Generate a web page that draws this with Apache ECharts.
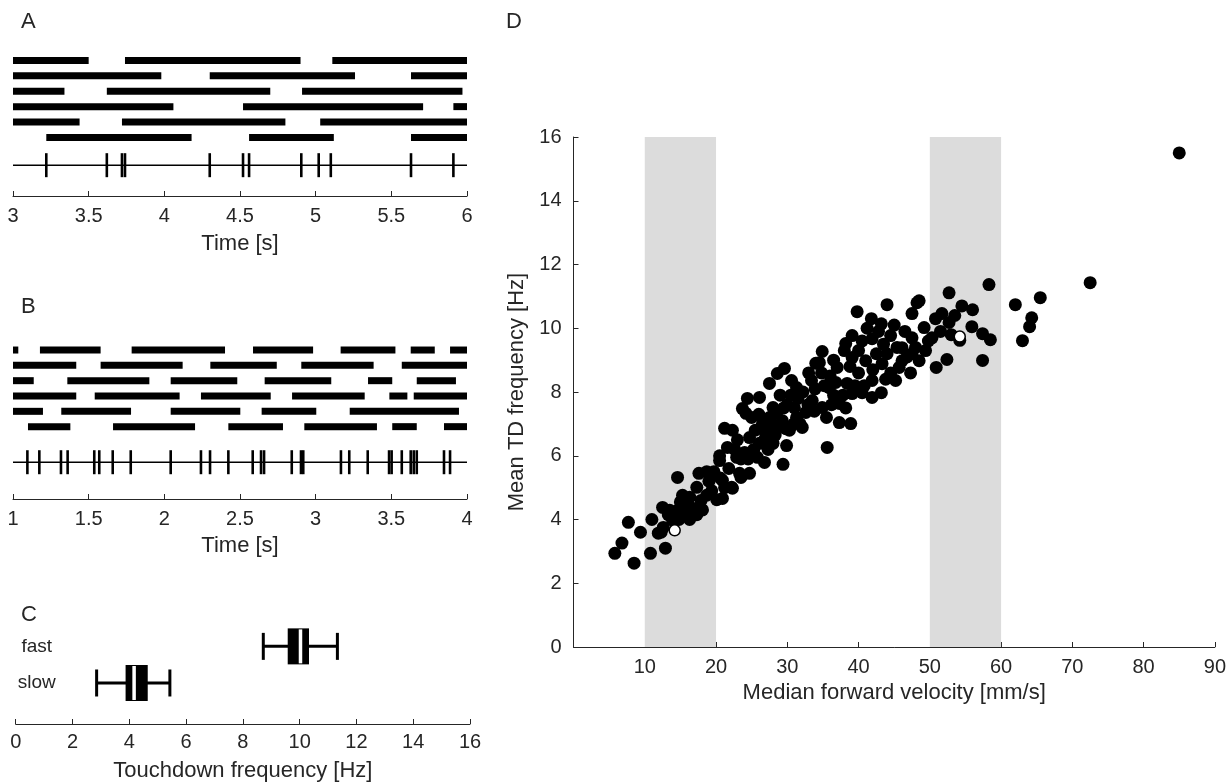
<!DOCTYPE html>
<html>
<head>
<meta charset="utf-8">
<script src="https://cdn.jsdelivr.net/npm/echarts@6/dist/echarts.min.js"></script>
<style>html,body{margin:0;padding:0;background:#fff}#c{width:1229px;height:783px}</style>
</head>
<body>
<div id="c"></div>
<script>
// ---------- DATA ----------
// Panel A: stance phases (s) for 6 legs, slow walking, 3-6 s
const aLeg1 = [[3.0,3.50],[3.74,4.90],[5.11,6.0]];
const aLeg2 = [[3.0,3.98],[4.30,5.26],[5.63,6.0]];
const aLeg3 = [[3.0,3.34],[3.62,4.70],[4.91,5.97]];
const aLeg4 = [[3.0,4.06],[4.52,5.71],[5.91,6.0]];
const aLeg5 = [[3.0,3.44],[3.72,4.80],[5.03,6.0]];
const aLeg6 = [[3.22,4.18],[4.56,5.12],[5.63,6.0]];
const aTouchdowns = [3.22,3.62,3.72,3.74,4.30,4.52,4.56,4.905,5.02,5.10,5.63,5.91];
const aTimeRange = [3, 6];

// Panel B: stance phases (s) for 6 legs, fast walking, 1-4 s
const bLeg1 = [[1.0,1.035],[1.178,1.579],[1.784,2.401],[2.586,2.983],[3.165,3.527],[3.628,3.787],[3.888,4.0]];
const bLeg2 = [[1.0,1.418],[1.579,2.121],[2.304,2.743],[2.905,3.383],[3.569,4.0]];
const bLeg3 = [[1.0,1.137],[1.359,1.901],[2.042,2.482],[2.663,3.103],[3.346,3.506],[3.668,3.927]];
const bLeg4 = [[1.0,1.418],[1.540,2.101],[2.242,2.703],[2.844,3.324],[3.487,3.606],[3.648,4.0]];
const bLeg5 = [[1.0,1.198],[1.319,1.780],[2.042,2.502],[2.643,3.004],[3.225,3.947]];
const bLeg6 = [[1.099,1.379],[1.661,2.203],[2.423,2.784],[2.925,3.405],[3.506,3.668],[3.848,4.0]];
const bTouchdowns = [1.095,1.174,1.317,1.361,1.537,1.570,1.659,1.778,2.042,2.242,2.302,2.423,
  2.584,2.639,2.659,2.842,2.903,2.918,3.167,3.222,3.344,3.485,3.502,3.569,3.628,3.648,3.668,3.848,3.888];
const bTimeRange = [1, 4];

// Panel C: touchdown frequency boxes [min, q1, median, q3, max]
const cGroups = ['slow', 'fast'];
const cSlow = [2.85, 3.87, 4.17, 4.65, 5.43];
const cFast = [8.72, 9.58, 10.03, 10.33, 11.33];

// Panel D: median forward velocity (mm/s) vs mean TD frequency (Hz)
const flies = [
[5.8,2.94],[6.8,3.26],[7.7,3.91],[8.5,2.63],[9.4,3.6],[10.8,2.94],[11.0,4.0],[12.9,3.1],[12.5,4.38],[11.9,3.57],
[12.6,3.75],[13.5,4.29],[14.6,4.29],[15.6,4.2],[14.6,5.32],[15.3,4.76],[16.3,4.7],[17.3,5.01],[17.6,5.45],[18.7,5.5],
[19.7,5.5],[20.6,5.3],[21.2,5.0],[18.7,4.76],[20.1,4.62],[20.9,4.66],[17.3,4.15],[16.3,4.0],[14.8,4.0],[13.9,3.98],
[16.7,4.35],[18.1,4.3],[15.0,4.55],[13.3,4.15],[12.3,3.6],[19.4,4.9],[16.0,4.45],[17.9,4.6],[19.0,5.2],
[20.5,6.0],[21.6,6.26],[22.3,6.8],[22.3,4.98],[23.5,5.9],[23.5,5.32],[24.7,5.45],[26.8,5.79],[29.9,6.32],[29.4,5.73],
[28.0,6.39],[26.1,6.39],[24.7,6.57],[21.2,6.86],[20.5,5.85],[22.9,5.95],[23.3,5.45],[22.2,5.01],[20.9,5.23],[24.2,7.33],
[23.7,7.48],[24.4,7.8],[26.1,7.83],[28.0,7.51],[28.5,7.33],[27.5,7.2],[29.3,7.1],[31.3,7.2],[32.6,7.36],[33.5,7.73],
[33.4,8.36],[32.1,6.89],[30.9,7.0],[27.5,8.27],[28.6,8.58],[29.6,8.74],[30.6,8.36],[31.3,8.14],[25.5,6.8],[26.5,7.0],
[25.3,6.2],[27.0,6.7],[28.5,6.9],[30.0,7.6],[31.5,7.8],[32.2,8.0],[29.0,7.9],[25.0,7.2],[26.0,7.3],[30.5,7.9],
[21.8,5.6],[22.6,6.2],[24.0,6.1],[25.8,5.95],[27.3,6.2],[28.3,6.65],[29.8,6.85],[31.0,7.5],[32.9,7.6],[33.9,8.1],
[23.0,6.5],[24.5,5.9],[26.8,6.5],[27.8,7.0],[29.5,7.5],[30.3,6.8],[31.8,7.0],
[34.9,9.27],[34.5,8.92],[34.8,8.6],[35.6,6.26],[37.3,7.04],[38.9,7.01],[34.9,7.51],[37.3,7.64],[38.2,7.5],[35.9,8.14],
[38.4,8.27],[39.1,7.95],[37.0,8.77],[38.0,9.3],[38.2,9.52],[39.1,9.77],[39.1,9.08],[41.0,8.98],[43.3,8.89],[46.1,8.98],
[47.3,8.6],[45.2,8.36],[41.9,8.36],[40.5,7.98],[43.2,7.98],[41.9,7.83],[41.9,9.67],[44.5,9.77],[45.4,9.4],[41.2,10.0],
[41.8,10.3],[43.2,10.14],[39.8,10.52],[44.0,10.74],[48.2,10.8],[47.5,10.46],[49.2,10.02],[47.5,9.7],[46.1,9.39],[47.5,9.2],
[48.5,8.98],[45.7,8.77],[49.4,9.3],[36.0,8.5],[36.5,7.9],[40.0,8.6],[42.5,9.2],[43.5,9.5],[44.5,8.6],[40.0,9.3],
[36.5,9.0],[33.0,8.6],[35.5,7.2],[39.5,8.2],[42.0,8.7],[44.0,9.2],[46.5,9.9],[48.0,9.4],[50.3,9.7],[34.0,8.9],
[35.2,8.2],[36.8,8.3],[38.8,8.8],[40.5,9.6],[42.8,9.9],[45.0,10.1],[43.8,8.4],[40.8,8.2],[37.8,7.9],[36.2,7.6],
[33.8,7.4],[46.8,9.1],
[50.9,8.77],[52.4,9.02],[55.9,10.05],[54.5,10.7],[56.0,10.58],[51.7,10.46],[50.8,10.3],[52.7,10.18],[52.7,11.11],[58.3,11.37],
[57.4,8.99],[58.5,9.64],[57.4,9.83],[54.2,9.62],[48.5,10.86],[51.5,9.9],[53.5,10.4],[49.8,9.6],[53.0,9.8],
[62.0,10.74],[65.5,10.96],[64.3,10.33],[64.0,10.05],[63.0,9.61],[72.5,11.43],[85.0,15.5]
];
const examples = [[14.2,3.66],[54.2,9.74]];   // flies shown in A and B (white)
const bands = [[10,20],[50,60]];               // shaded velocity ranges
const dYRange = [0, 16];
const dXRange = [0, 90];

// ---------- LAYOUT / STYLE ----------
const FONT = '"Liberation Sans", Arial, Helvetica, sans-serif';
const TXT = '#262626';

function legRows(legs) {
  const out = [];
  legs.forEach((leg, i) => leg.forEach(seg => out.push([i + 1, seg[0], seg[1]])));
  return out;
}
function barRender(params, api) {
  const row = api.value(0);
  const p0 = api.coord([api.value(1), row]);
  const p1 = api.coord([api.value(2), row]);
  const h = 7;
  return { type: 'rect', shape: { x: p0[0], y: p0[1] - h / 2, width: p1[0] - p0[0], height: h }, style: { fill: '#000' } };
}
function spikeRender(row) {
  return function (params, api) {
    const p = api.coord([api.value(0), row]);
    return { type: 'rect', shape: { x: p[0] - 1.3, y: p[1] - 12, width: 2.6, height: 24 }, style: { fill: '#000' } };
  };
}
function boxRender(params, api) {
  const y = api.value(0);
  const pMin = api.coord([api.value(1), y]);
  const pQ1 = api.coord([api.value(2), y]);
  const pMed = api.coord([api.value(3), y]);
  const pQ3 = api.coord([api.value(4), y]);
  const pMax = api.coord([api.value(5), y]);
  const cy = pMin[1];
  const bh = 36, ch = 27;
  const ls = { stroke: '#000', lineWidth: 3 };
  return {
    type: 'group',
    children: [
      { type: 'line', shape: { x1: pMin[0], y1: cy, x2: pMax[0], y2: cy }, style: ls },
      { type: 'line', shape: { x1: pMin[0], y1: cy - ch / 2, x2: pMin[0], y2: cy + ch / 2 }, style: ls },
      { type: 'line', shape: { x1: pMax[0], y1: cy - ch / 2, x2: pMax[0], y2: cy + ch / 2 }, style: ls },
      { type: 'rect', shape: { x: pQ1[0], y: cy - bh / 2, width: pQ3[0] - pQ1[0], height: bh }, style: { fill: '#000' } },
      { type: 'line', shape: { x1: pMed[0], y1: cy - bh / 2 + 1, x2: pMed[0], y2: cy + bh / 2 - 1 }, style: { stroke: '#fff', lineWidth: 3.5 } }
    ]
  };
}
function bandRender(params, api) {
  const p0 = api.coord([api.value(0), dYRange[1]]);
  const p1 = api.coord([api.value(1), dYRange[0]]);
  return { type: 'rect', shape: { x: p0[0], y: p0[1], width: p1[0] - p0[0], height: p1[1] - p0[1] }, style: { fill: '#dcdcdc' } };
}

const axLine = { show: true, onZero: false, lineStyle: { color: TXT, width: 1 } };
const axTick = { show: true, inside: true, length: 5, lineStyle: { color: TXT, width: 1 } };
const axLabel = { color: TXT, fontSize: 20, fontFamily: FONT };
const nameStyle = { color: TXT, fontSize: 22, fontFamily: FONT };
const letterStyle = { color: TXT, fontSize: 22, fontWeight: 'normal', fontFamily: FONT };

const aSpikeRow = 7.8, bSpikeRow = 8.32;

const option = {
  animation: false,
  backgroundColor: '#fff',
  title: [
    { text: 'A', left: 16, top: 6, textStyle: letterStyle },
    { text: 'B', left: 16, top: 291, textStyle: letterStyle },
    { text: 'C', left: 16, top: 599, textStyle: letterStyle },
    { text: 'D', left: 501, top: 6, textStyle: letterStyle }
  ],
  grid: [
    { left: 13, width: 454, top: 45, height: 151 },
    { left: 13, width: 454, top: 334.7, height: 164.3 },
    { left: 15.7, width: 454.3, top: 624.4, height: 100.6 },
    { left: 573.5, right: 12, top: 137, height: 510 }
  ],
  xAxis: [
    { gridIndex: 0, type: 'value', min: aTimeRange[0], max: aTimeRange[1], interval: 0.5,
      axisLine: axLine, axisTick: axTick, axisLabel: Object.assign({ margin: 10 }, axLabel), splitLine: { show: false },
      name: 'Time [s]', nameLocation: 'middle', nameGap: 37, nameTextStyle: nameStyle },
    { gridIndex: 1, type: 'value', min: bTimeRange[0], max: bTimeRange[1], interval: 0.5,
      axisLine: axLine, axisTick: axTick, axisLabel: Object.assign({ margin: 10 }, axLabel), splitLine: { show: false },
      name: 'Time [s]', nameLocation: 'middle', nameGap: 36, nameTextStyle: nameStyle },
    { gridIndex: 2, type: 'value', min: 0, max: 16, interval: 2,
      axisLine: axLine, axisTick: axTick, axisLabel: Object.assign({ margin: 8 }, axLabel), splitLine: { show: false },
      name: 'Touchdown frequency [Hz]', nameLocation: 'middle', nameGap: 36, nameTextStyle: nameStyle },
    { gridIndex: 3, type: 'value', min: dXRange[0], max: dXRange[1], interval: 10,
      axisLine: axLine, axisTick: axTick,
      axisLabel: Object.assign({ margin: 10, formatter: v => (v === 0 ? '' : String(v)) }, axLabel),
      splitLine: { show: false },
      name: 'Median forward velocity [mm/s]', nameLocation: 'middle', nameGap: 32, nameTextStyle: nameStyle }
  ],
  yAxis: [
    { gridIndex: 0, type: 'value', min: 0, max: 9.8, inverse: true, show: false },
    { gridIndex: 1, type: 'value', min: 0, max: 10.72, inverse: true, show: false },
    { gridIndex: 2, type: 'value', min: -0.12, max: 2.6,
      axisLine: { show: false }, axisTick: { show: false }, splitLine: { show: false },
      axisLabel: { show: true, inside: true, margin: 21, align: 'center', customValues: [1, 2],
        formatter: v => cGroups[Math.round(v) - 1] || '', color: TXT, fontSize: 19, fontFamily: FONT } },
    { gridIndex: 3, type: 'value', min: dYRange[0], max: dYRange[1], interval: 2,
      axisLine: axLine, axisTick: axTick, axisLabel: Object.assign({ margin: 12 }, axLabel), splitLine: { show: false },
      name: 'Mean TD frequency [Hz]', nameLocation: 'middle', nameGap: 42, nameTextStyle: nameStyle }
  ],
  series: [
    { type: 'custom', xAxisIndex: 0, yAxisIndex: 0, renderItem: barRender,
      data: legRows([aLeg1, aLeg2, aLeg3, aLeg4, aLeg5, aLeg6]), silent: true },
    { type: 'line', xAxisIndex: 0, yAxisIndex: 0, symbol: 'none', silent: true,
      lineStyle: { color: '#000', width: 1.5 }, data: [[aTimeRange[0], aSpikeRow], [aTimeRange[1], aSpikeRow]] },
    { type: 'custom', xAxisIndex: 0, yAxisIndex: 0, renderItem: spikeRender(aSpikeRow),
      data: aTouchdowns.map(t => [t]), silent: true },
    { type: 'custom', xAxisIndex: 1, yAxisIndex: 1, renderItem: barRender,
      data: legRows([bLeg1, bLeg2, bLeg3, bLeg4, bLeg5, bLeg6]), silent: true },
    { type: 'line', xAxisIndex: 1, yAxisIndex: 1, symbol: 'none', silent: true,
      lineStyle: { color: '#000', width: 1.5 }, data: [[bTimeRange[0], bSpikeRow], [bTimeRange[1], bSpikeRow]] },
    { type: 'custom', xAxisIndex: 1, yAxisIndex: 1, renderItem: spikeRender(bSpikeRow),
      data: bTouchdowns.map(t => [t]), silent: true },
    { type: 'custom', xAxisIndex: 2, yAxisIndex: 2, renderItem: boxRender, silent: true,
      data: [[1].concat(cSlow), [2].concat(cFast)] },
    { type: 'custom', xAxisIndex: 3, yAxisIndex: 3, renderItem: bandRender, silent: true, z: 1,
      data: bands },
    { type: 'scatter', xAxisIndex: 3, yAxisIndex: 3, symbolSize: 13, z: 3,
      itemStyle: { color: '#000', opacity: 1 }, data: flies },
    { type: 'scatter', xAxisIndex: 3, yAxisIndex: 3, symbolSize: 11, z: 4,
      itemStyle: { color: '#fff', borderColor: '#000', borderWidth: 1.5, opacity: 1 }, data: examples }
  ]
};
const chart = echarts.init(document.getElementById('c'), null, { renderer: 'canvas' });
chart.setOption(option);
</script>
</body>
</html>
